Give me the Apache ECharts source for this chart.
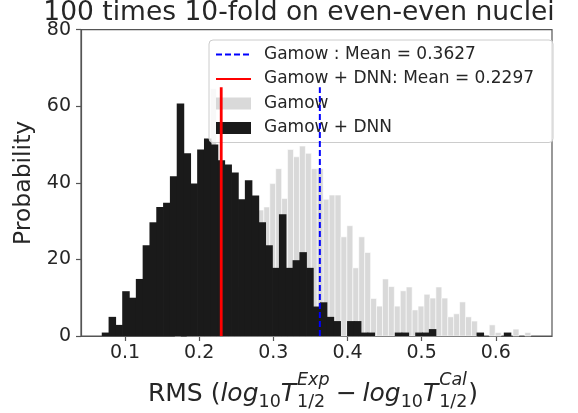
<!DOCTYPE html>
<html><head><meta charset="utf-8">
<script src="https://cdn.jsdelivr.net/npm/echarts@6/dist/echarts.min.js"></script>
<style>html,body{margin:0;padding:0;background:#fff}#c{width:578px;height:413px}</style>
</head><body><div id="c"></div>
<script>
// ---- data ----
const dnnBinStart = 0.0686;
const dnnBinWidth = 0.00919;
const gamowDNN = [0.9, 5.0, 2.9, 11.7, 10.0, 14.9, 23.7, 29.7, 33.7, 34.8,
  41.7, 60.7, 47.7, 39.8, 48.7, 51.6, 50.0, 45.9, 44.8, 42.7,
  35.7, 40.7, 36.7, 29.7, 23.7, 17.8, 31.8, 17.8, 19.8, 21.9,
  17.8, 7.7, 8.8, 5.0, 3.9, 0, 3.9, 3.9, 0.9, 0.9,
  0, 0, 0, 0.9, 0.9, 0, 0.9, 0.9, 1.8, 0,
  0, 0, 0, 0, 0, 0.9, 0, 0, 0, 0.9];
const gamowBinStart = 0.1672;
const gamowBinWidth = 0.0080;
const gamow = [0.9, 0, 0.9, 0.9, 4, 4, 64.6, 7, 6, 14,
  13, 18, 14, 29, 32.9, 33.7, 39.8, 43.7, 35.9, 48.7,
  46.8, 49.6, 47.7, 43.7, 43.7, 35.7, 36.8, 36.8, 25.9, 28.8,
  17.8, 25.9, 21.8, 9.8, 7.8, 14.9, 12.9, 7.8, 11.8, 12.8,
  6.8, 7.8, 10.9, 9.9, 12.8, 9.9, 5.0, 5.8, 8.9, 5.0,
  3.9, 0, 0, 2.9, 0.9, 0, 0, 1.8, 0, 0.9];
const meanGamow = 0.3627;
const meanDNN = 0.2297;
const meanLineTop = 65;
const xTicks = [0.1, 0.2, 0.3, 0.4, 0.5, 0.6];
const xRange = [0.0406, 0.6758];
const yRange = [0, 80];
const yStep = 20;
const names = ['Gamow : Mean = 0.3627', 'Gamow + DNN: Mean = 0.2297', 'Gamow', 'Gamow + DNN'];

// ---- build ----
const FONT = '"DejaVu Sans", sans-serif';
const TXT = '#262626';
const bins = (vals, start, width) => vals.map((h, k) => [start + k * width, start + (k + 1) * width, h]);

function barRenderer(fill, stroke, lw, overlap) {
  return function (params, api) {
    const h = api.value(2);
    if (!(h > 0)) return null;
    const p0 = api.coord([api.value(0), 0]);
    const p1 = api.coord([api.value(1), h]);
    return {
      type: 'rect',
      shape: { x: p0[0], y: p1[1], width: p1[0] - p0[0] + overlap, height: p0[1] - p1[1] },
      style: { fill: fill, stroke: stroke, lineWidth: lw }
    };
  };
}

// x-axis label with math-like layout
const ctx = document.createElement('canvas').getContext('2d');
const F = 25, S = 17.5;
const reg = s => s + 'px "DejaVu Sans"';
const ita = s => 'italic ' + s + 'px "DejaVu Sans"';
function tw(t, f) { ctx.font = f; return ctx.measureText(t).width; }
const parts = [];
let cx = 0;
function add(text, font, size, dy) { parts.push({ text, font, size, x: cx, dy }); cx += tw(text, font); }
function stack(sup, sub) {
  const a = tw(sup, ita(S)), b = tw(sub, reg(S));
  parts.push({ text: sup, font: ita(S), size: S, x: cx + 1, dy: -17 });
  parts.push({ text: sub, font: reg(S), size: S, x: cx + 1, dy: 5 });
  cx += Math.max(a, b) + 2;
}
add('RMS (', reg(F), F, 0);
add('log', ita(F), F, 0);
add('10', reg(S), S, 5);
add('T', ita(F), F, 0);
stack('Exp', '1/2');
cx += 0.22 * F; add('\u2212', reg(F), F, 0); cx += 0.22 * F;
add('log', ita(F), F, 0);
add('10', reg(S), S, 5);
add('T', ita(F), F, 0);
stack('Cal', '1/2');
add(')', reg(F), F, 0);
const labelCenter = 313, baseY = 403.5;
const x0 = labelCenter - cx / 2;
const xLabelEls = parts.map(p => ({
  type: 'text', x: x0 + p.x, y: baseY + p.dy - 0.346 * p.size, silent: true,
  style: { text: p.text, font: p.font, fill: TXT, align: 'left', verticalAlign: 'middle' }
}));

const chart = echarts.init(document.getElementById('c'), null, { renderer: 'canvas' });
chart.setOption({
  animation: false,
  backgroundColor: '#ffffff',
  grid: { left: 81, right: 26, top: 29.7, bottom: 77, show: true, borderColor: '#555555', borderWidth: 1.2, backgroundColor: 'transparent' },
  xAxis: {
    type: 'value', min: xRange[0], max: xRange[1],
    axisLine: { show: true, lineStyle: { color: '#555555', width: 1.2 } },
    axisTick: { show: true, customValues: xTicks, length: 5, lineStyle: { color: '#555555', width: 1.2 } },
    axisLabel: { customValues: xTicks, fontFamily: FONT, fontSize: 19, color: TXT, margin: 8, formatter: v => v.toFixed(1) },
    splitLine: { show: false }
  },
  yAxis: {
    type: 'value', min: yRange[0], max: yRange[1], interval: yStep,
    name: 'Probability', nameLocation: 'middle', nameGap: 40,
    nameTextStyle: { fontFamily: FONT, fontSize: 23.5, color: TXT },
    axisLine: { show: true, lineStyle: { color: '#555555', width: 1.2 } },
    axisTick: { show: true, length: 5, lineStyle: { color: '#555555', width: 1.2 } },
    axisLabel: { fontFamily: FONT, fontSize: 19, color: TXT, margin: 10 },
    splitLine: { show: false }
  },
  legend: {
    orient: 'vertical', left: 209, top: 40,
    data: [
      { name: names[0], itemStyle: { opacity: 0 } },
      { name: names[1], itemStyle: { opacity: 0 } },
      { name: names[2], icon: 'rect' },
      { name: names[3], icon: 'rect' }],
    itemWidth: 35, itemHeight: 12, itemGap: 7.5,
    padding: [6, 19, 6, 6],
    backgroundColor: 'rgba(255,255,255,0.8)', borderColor: '#cccccc', borderWidth: 1, borderRadius: 4,
    textStyle: { fontFamily: FONT, fontSize: 17, color: TXT, padding: [0, 0, 0, 8], lineHeight: 17 },
    selectedMode: false
  },
  graphic: [
    { type: 'text', x: 299, y: 22.5 - 0.346 * 26.5, silent: true,
      style: { text: '100 times 10-fold on even-even nuclei', font: '26.5px "DejaVu Sans"', fill: TXT, align: 'center', verticalAlign: 'middle' } }
  ].concat(xLabelEls),
  series: [
    { name: names[2], type: 'custom', renderItem: barRenderer('#d9d9d9', 'rgba(255,255,255,0.7)', 0.8, 0),
      itemStyle: { color: '#d9d9d9' }, encode: { x: [0, 1], y: 2 }, data: bins(gamow, gamowBinStart, gamowBinWidth), z: 2 },
    { name: names[3], type: 'custom', renderItem: barRenderer('#1a1a1a', null, 0, 0.7),
      itemStyle: { color: '#1a1a1a' }, encode: { x: [0, 1], y: 2 }, data: bins(gamowDNN, dnnBinStart, dnnBinWidth), z: 3 },
    { name: names[0], type: 'line', symbol: 'none', z: 4,
      lineStyle: { color: '#0000ff', width: 2, type: [6, 3] }, itemStyle: { color: '#0000ff' },
      data: [[meanGamow, 0], [meanGamow, meanLineTop]] },
    { name: names[1], type: 'line', symbol: 'none', z: 4,
      lineStyle: { color: '#ff0000', width: 2.8 }, itemStyle: { color: '#ff0000' },
      data: [[meanDNN, 0], [meanDNN, meanLineTop]] }
  ]
});
</script></body></html>
